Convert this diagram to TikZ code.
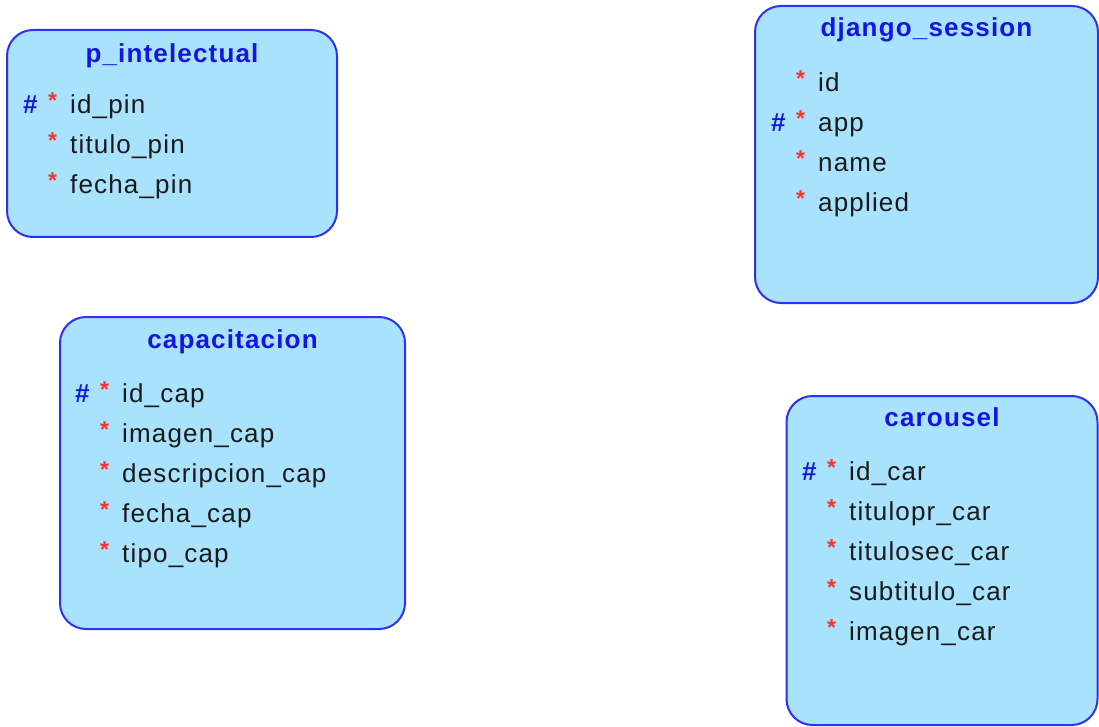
\documentclass[tikz,border=0pt]{standalone}
\usepackage{fontspec}
\setmainfont{Liberation Sans}[LetterSpace=4.5]
\definecolor{boxfill}{HTML}{A8E2FC}
\definecolor{boxline}{HTML}{3030F0}
\definecolor{titleblue}{HTML}{1515E0}
\definecolor{starred}{HTML}{FF3030}
\definecolor{fieldblack}{HTML}{1A1A1A}
\tikzset{
  erbox/.style={draw=boxline, line width=2pt, fill=boxfill, rounded corners=26pt, inner sep=0pt},
  ertitle/.style={anchor=base, inner sep=0pt, text=titleblue, font=\fontsize{26}{30}\selectfont\bfseries},
  fieldtext/.style={anchor=base west, inner sep=0pt, text=fieldblack, font=\fontsize{26}{30}\selectfont},
  fieldstar/.style={anchor=base west, inner sep=0pt, text=starred, font=\fontsize{23}{26}\selectfont\bfseries},
  fieldkey/.style={anchor=base west, inner sep=0pt, text=titleblue, font=\fontsize{26}{30}\selectfont\bfseries},
}
\newcommand\erfield[4]{%
  \node[fieldstar] (#1s) at (#2+25,#3-5) {*};
  \node[fieldtext] (#1) at (#2+47,#3) {#4};}
\newcommand\erkey[3]{\node[fieldkey] (#1) at (#2,#3) {\#};}
\begin{document}
\begin{tikzpicture}[x=1pt,y=-1pt]
\useasboundingbox (0,0) rectangle (1099,727);
% p_intelectual
\node[erbox, minimum width=330pt, minimum height=207pt] (pint) at (172,133.5) {};
\node[ertitle] (pintT) at (172,63) {p\_intelectual};
\erkey{pintK}{23}{114}
\erfield{pinA}{23}{114}{id\_pin}
\erfield{pinB}{23}{154}{titulo\_pin}
\erfield{pinC}{23}{194}{fecha\_pin}
% django_session
\node[erbox, minimum width=343pt, minimum height=297pt] (djs) at (926.5,154.5) {};
\node[ertitle] (djsT) at (926.5,37) {django\_session};
\erfield{djA}{771}{92}{id}
\erkey{djK}{771}{132}
\erfield{djB}{771}{132}{app}
\erfield{djC}{771}{172}{name}
\erfield{djD}{771}{212}{applied}
% capacitacion
\node[erbox, minimum width=345pt, minimum height=312pt] (cap) at (232.5,473) {};
\node[ertitle] (capT) at (232.5,348) {capacitacion};
\erkey{capK}{75}{402}
\erfield{capA}{75}{402}{id\_cap}
\erfield{capB}{75}{442}{imagen\_cap}
\erfield{capC}{75}{482}{descripcion\_cap}
\erfield{capD}{75}{522}{fecha\_cap}
\erfield{capE}{75}{562}{tipo\_cap}
% carousel
\node[erbox, minimum width=311pt, minimum height=329pt] (car) at (942,560.5) {};
\node[ertitle] (carT) at (942,426) {carousel};
\erkey{carK}{802}{480}
\erfield{carA}{802}{480}{id\_car}
\erfield{carB}{802}{520}{titulopr\_car}
\erfield{carC}{802}{560}{titulosec\_car}
\erfield{carD}{802}{600}{subtitulo\_car}
\erfield{carE}{802}{640}{imagen\_car}
\end{tikzpicture}
\end{document}
